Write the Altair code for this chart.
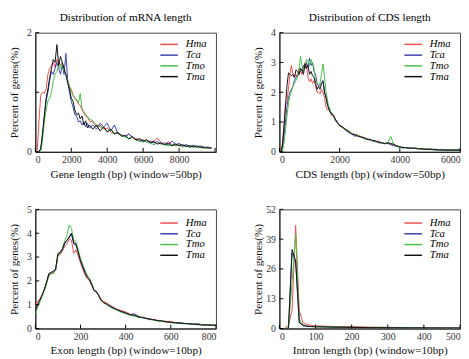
import altair as alt
import pandas as pd

SPECIES = ["Hma", "Tca", "Tmo", "Tma"]
COLORS = ["#ef4c4c", "#3a40ad", "#46c046", "#111111"]
FONT = "Liberation Serif"
W, H = 185, 122

# ---------------- Panel 1: mRNA length (window=50bp) ----------------
MRNA_X = [0, 100, 200, 300, 400, 500, 600, 700, 800, 900,
          1000, 1100, 1200, 1300, 1400, 1500, 1600, 1700, 1800, 1900,
          2000, 2100, 2200, 2300, 2400, 2500, 2600, 2700, 2800, 2900,
          3000, 3200, 3400, 3600, 3800, 4000, 4200, 4400, 4600, 4800,
          5000, 5200, 5400, 5600, 5800, 6000, 6200, 6400, 6600, 6800,
          7000, 7200, 7400, 7600, 7800, 8000, 8200, 8400, 8600, 8800,
          9000, 9200, 9400, 9600, 9800]
MRNA_HMA = [0, 0, 0.5, 0.95, 1.0, 0.98, 1.05, 1.3, 1.4, 1.45,
            1.5, 1.42, 1.55, 1.5, 1.45, 1.5, 1.35, 1.3, 1.2, 1.1,
            1.05, 0.95, 0.9, 0.88, 0.8, 0.78, 0.7, 0.65, 0.6, 0.58,
            0.52, 0.5, 0.42, 0.45, 0.38, 0.4, 0.33, 0.3, 0.32, 0.28,
            0.25, 0.3, 0.24, 0.22, 0.2, 0.18, 0.2, 0.16, 0.18, 0.23,
            0.15, 0.12, 0.17, 0.12, 0.1, 0.12, 0.09, 0.1, 0.08, 0.1,
            0.07, 0.09, 0.06, 0.08, 0.05]
MRNA_TCA = [0, 0, 0, 0.05, 0.3, 0.6, 0.85, 1.0, 1.2, 1.35,
            1.3, 1.4, 1.5, 1.4, 1.3, 1.45, 1.3, 1.65, 1.2, 1.0,
            0.85, 0.75, 0.62, 0.6, 0.5, 0.52, 0.45, 0.5, 0.42, 0.48,
            0.4, 0.45, 0.38, 0.48, 0.42, 0.48, 0.35, 0.45, 0.3, 0.28,
            0.25, 0.3, 0.25, 0.2, 0.18, 0.2, 0.16, 0.18, 0.15, 0.17,
            0.13, 0.15, 0.12, 0.18, 0.12, 0.14, 0.1, 0.12, 0.09, 0.11,
            0.08, 0.1, 0.07, 0.08, 0.06]
MRNA_TMO = [0, 0, 0, 0, 0.2, 0.5, 0.7, 0.85, 0.9, 1.0,
            1.2, 1.3, 1.35, 1.45, 1.4, 1.5, 1.35, 1.3, 1.2, 1.1,
            1.0, 0.95, 0.9, 0.85, 0.82, 0.98, 0.72, 0.68, 0.62, 0.6,
            0.55, 0.52, 0.45, 0.42, 0.4, 0.35, 0.38, 0.3, 0.32, 0.27,
            0.25, 0.22, 0.24, 0.2, 0.18, 0.16, 0.18, 0.14, 0.12, 0.15,
            0.13, 0.12, 0.1, 0.12, 0.1, 0.11, 0.08, 0.1, 0.07, 0.09,
            0.07, 0.08, 0.06, 0.07, 0.06]
MRNA_TMA = [0, 0, 0, 0.05, 0.3, 0.6, 0.9, 1.05, 1.25, 1.4,
            1.55, 1.5, 1.8, 1.45, 1.6, 1.5, 1.4, 1.3, 1.15, 1.05,
            0.9, 0.85, 0.7, 0.62, 0.65, 0.55, 0.6, 0.45, 0.52, 0.4,
            0.45, 0.38, 0.45, 0.35, 0.42, 0.33, 0.38, 0.3, 0.33, 0.26,
            0.28, 0.22, 0.25, 0.2, 0.22, 0.18, 0.2, 0.15, 0.17, 0.13,
            0.15, 0.12, 0.14, 0.1, 0.13, 0.1, 0.12, 0.09, 0.1, 0.08,
            0.1, 0.07, 0.08, 0.06, 0.07]

# ---------------- Panel 2: CDS length (window=50bp) ----------------
CDS_X = [0, 50, 100, 150, 200, 250, 300, 350, 400, 450,
         500, 550, 600, 650, 700, 750, 800, 850, 900, 950,
         1000, 1050, 1100, 1150, 1200, 1250, 1300, 1350, 1400, 1450,
         1500, 1550, 1600, 1650, 1700, 1750, 1800, 1850, 1900, 1950,
         2000, 2100, 2200, 2300, 2400, 2500, 2600, 2700, 2800, 2900,
         3000, 3100, 3200, 3300, 3400, 3500, 3600, 3700, 3800, 3900,
         4000, 4100, 4200, 4300, 4400, 4500, 4600, 4700, 4800, 4900,
         5000, 5100, 5200, 5300, 5400, 5500, 5600, 5700, 5800, 5900,
         6000]
CDS_HMA = [0, 0, 0.3, 0.9, 1.6, 1.7, 2.1, 2.6, 2.9, 2.6,
           2.5, 2.6, 2.5, 2.8, 2.75, 2.6, 2.8, 3.0, 2.9, 2.5,
           2.35, 2.45, 2.3, 2.4, 2.2, 2.0, 2.0, 1.95, 2.1, 2.0,
           1.8, 1.5, 1.4, 1.45, 1.3, 1.2, 1.25, 1.1, 1.05, 0.95,
           0.9, 0.85, 0.75, 0.7, 0.62, 0.55, 0.58, 0.5, 0.48, 0.45,
           0.4, 0.38, 0.35, 0.36, 0.3, 0.28, 0.3, 0.25, 0.22, 0.2,
           0.16, 0.15, 0.14, 0.13, 0.12, 0.13, 0.11, 0.1, 0.11, 0.09,
           0.1, 0.08, 0.09, 0.07, 0.08, 0.07, 0.06, 0.07, 0.06, 0.07,
           0.06]
CDS_TCA = [0, 0, 0.1, 0.5, 1.0, 1.5, 1.8, 2.0, 2.1, 2.2,
           2.4, 2.5, 2.55, 2.6, 2.7, 2.75, 2.9, 2.8, 3.0, 2.85,
           3.15, 2.9, 3.0, 2.7, 2.6, 2.3, 2.2, 2.25, 2.3, 2.4,
           1.95, 1.9, 1.6, 1.5, 1.35, 1.25, 1.2, 1.1, 1.05, 0.95,
           0.9, 0.82, 0.72, 0.65, 0.6, 0.52, 0.55, 0.5, 0.45, 0.42,
           0.4, 0.36, 0.35, 0.3, 0.3, 0.27, 0.28, 0.24, 0.2, 0.18,
           0.15, 0.13, 0.14, 0.12, 0.11, 0.12, 0.1, 0.11, 0.08, 0.09,
           0.08, 0.09, 0.06, 0.07, 0.06, 0.05, 0.06, 0.05, 0.06, 0.05,
           0.06]
CDS_TMO = [0, 0, 0, 0.3, 0.7, 1.2, 1.6, 1.9, 2.0, 2.2,
           2.3, 2.4, 2.5, 2.7, 3.2, 2.9, 2.7, 2.9, 3.1, 3.05,
           2.9, 3.1, 2.95, 2.8, 2.4, 2.3, 2.25, 2.3, 2.6, 2.95,
           2.5, 2.0, 1.7, 1.5, 1.35, 1.3, 1.2, 1.05, 1.0, 0.95,
           0.88, 0.8, 0.75, 0.7, 0.62, 0.58, 0.55, 0.52, 0.45, 0.42,
           0.4, 0.37, 0.33, 0.32, 0.3, 0.27, 0.3, 0.52, 0.24, 0.18,
           0.15, 0.13, 0.14, 0.11, 0.13, 0.11, 0.12, 0.09, 0.1, 0.08,
           0.11, 0.07, 0.06, 0.07, 0.05, 0.06, 0.05, 0.06, 0.08, 0.06,
           0.07]
CDS_TMA = [0, 0, 0.2, 0.8, 1.5, 2.2, 2.65, 2.6, 2.55, 2.6,
           2.5, 2.75, 2.7, 2.6, 2.8, 2.75, 2.6, 2.95, 2.8, 2.9,
           2.6, 2.7, 2.55, 2.5, 2.3, 2.1, 2.2, 2.1, 2.3, 2.35,
           2.0, 1.8, 1.55, 1.4, 1.3, 1.25, 1.2, 1.1, 1.0, 0.95,
           0.88, 0.82, 0.75, 0.68, 0.6, 0.58, 0.52, 0.5, 0.48, 0.42,
           0.42, 0.38, 0.36, 0.32, 0.3, 0.28, 0.3, 0.28, 0.25, 0.2,
           0.17, 0.15, 0.14, 0.13, 0.12, 0.12, 0.1, 0.1, 0.09, 0.08,
           0.08, 0.07, 0.07, 0.06, 0.06, 0.06, 0.05, 0.06, 0.05, 0.06,
           0.06]

# ---------------- Panel 3: Exon length (window=10bp) ----------------
EXON_X = [0, 10, 20, 30, 40, 50, 60, 70, 80, 90,
          100, 110, 120, 130, 140, 150, 160, 170, 180, 190,
          200, 210, 220, 230, 240, 250, 260, 270, 280, 290,
          300, 320, 340, 360, 380, 400, 420, 440, 460, 480,
          500, 520, 540, 560, 580, 600, 620, 640, 660, 680,
          700, 720, 740, 760, 780, 800]
EXON_HMA = [0.9, 1.15, 1.25, 1.4, 1.6, 1.9, 2.25, 2.3, 2.35, 2.45,
            3.05, 3.1, 3.25, 3.45, 3.55, 3.75, 3.7, 3.15, 3.3, 3.05,
            2.75, 2.5, 2.25, 2.1, 2.0, 1.8, 1.6, 1.55, 1.4, 1.25,
            1.15, 1.05, 0.92, 0.82, 0.75, 0.7, 0.6, 0.56, 0.5, 0.45,
            0.42, 0.38, 0.35, 0.32, 0.3, 0.3, 0.25, 0.23, 0.22, 0.2,
            0.19, 0.18, 0.16, 0.15, 0.15, 0.14]
EXON_TCA = [0.8, 0.95, 1.15, 1.4, 1.65, 1.95, 2.3, 2.35, 2.4, 2.5,
            3.1, 3.15, 3.3, 3.55, 3.7, 3.8, 4.0, 3.55, 3.5, 3.2,
            2.85, 2.6, 2.35, 2.15, 2.05, 1.85, 1.6, 1.55, 1.4, 1.2,
            1.1, 1.0, 0.9, 0.78, 0.72, 0.65, 0.58, 0.62, 0.48, 0.45,
            0.4, 0.37, 0.33, 0.31, 0.28, 0.26, 0.24, 0.25, 0.21, 0.2,
            0.18, 0.2, 0.15, 0.14, 0.14, 0.13]
EXON_TMO = [0.6, 0.9, 1.1, 1.35, 1.6, 1.9, 2.2, 2.3, 2.3, 2.45,
            3.1, 3.15, 3.35, 3.7, 3.9, 4.35, 4.2, 3.7, 3.65, 3.3,
            2.95, 2.7, 2.45, 2.25, 2.1, 1.9, 1.6, 1.5, 1.38, 1.2,
            1.1, 0.98, 0.85, 0.78, 0.68, 0.62, 0.55, 0.52, 0.45, 0.48,
            0.38, 0.36, 0.32, 0.3, 0.27, 0.25, 0.23, 0.21, 0.2, 0.19,
            0.17, 0.16, 0.15, 0.14, 0.14, 0.15]
EXON_TMA = [0.75, 1.0, 1.2, 1.4, 1.65, 1.95, 2.3, 2.35, 2.4, 2.5,
            3.15, 3.2, 3.35, 3.6, 3.7, 3.85, 4.0, 3.6, 3.55, 3.2,
            2.85, 2.6, 2.35, 2.15, 2.05, 1.85, 1.6, 1.55, 1.4, 1.2,
            1.1, 1.0, 0.88, 0.8, 0.72, 0.65, 0.58, 0.55, 0.48, 0.45,
            0.4, 0.38, 0.33, 0.32, 0.28, 0.26, 0.24, 0.22, 0.21, 0.2,
            0.18, 0.17, 0.15, 0.15, 0.14, 0.13]

# ---------------- Panel 4: Intron length (window=10bp) ----------------
INTRON_X = [5, 15, 25, 35, 45, 55, 65, 75, 85, 95,
            125, 150, 200, 250, 300, 350, 400, 450, 500]
INTRON_HMA = [0, 0, 1.5, 8, 45, 8, 2.5, 1.8, 1.5, 1.2,
              1.0, 0.9, 0.8, 0.6, 0.5, 0.4, 0.35, 0.3, 0.25]
INTRON_TCA = [0, 0, 0, 33, 29, 3, 1.2, 1.0, 0.9, 0.8,
              0.7, 0.6, 0.5, 0.4, 0.35, 0.3, 0.25, 0.2, 0.2]
INTRON_TMO = [0, 0, 0.5, 20, 41, 4, 1.5, 1.1, 0.9, 0.8,
              0.7, 0.6, 0.5, 0.4, 0.35, 0.3, 0.25, 0.2, 0.2]
INTRON_TMA = [0, 0, 0, 34.5, 29.5, 2.5, 1.5, 1.0, 0.9, 0.8,
              0.7, 0.6, 0.5, 0.4, 0.35, 0.3, 0.25, 0.2, 0.2]


def long_df(xs, series):
    rows = []
    for sp, vals in zip(SPECIES, series):
        for x, v in zip(xs, vals):
            rows.append({"x": x, "y": v, "species": sp})
    return pd.DataFrame(rows)


def panel(xs, series, xdom, xlabels, xticks, ydom, yticks, xtitle, title=None, legend_y=6):
    df = long_df(xs, series)
    xscale = alt.Scale(domain=xdom, nice=False, zero=False)
    yscale = alt.Scale(domain=ydom, nice=False, zero=False)
    xaxis = alt.Axis(values=xlabels, title=xtitle, ticks=False, format="d",
                     labelPadding=3, titlePadding=4)
    yaxis = alt.Axis(values=yticks, title="Percent of genes(%)", ticks=False, format="d",
                     labelPadding=4, titlePadding=3, minExtent=13, maxExtent=13)
    lines = alt.Chart(df).mark_line(strokeWidth=1, clip=True).encode(
        x=alt.X("x:Q", scale=xscale, axis=xaxis),
        y=alt.Y("y:Q", scale=yscale, axis=yaxis),
        color=alt.Color("species:N", sort=SPECIES,
                        scale=alt.Scale(domain=SPECIES, range=COLORS),
                        legend=alt.Legend(orient="none", legendX=131, legendY=legend_y,
                                          title=None,
                                          symbolType="M-1.8,0H1.8", symbolSize=100,
                                          symbolStrokeWidth=1.5, labelFontStyle="italic",
                                          labelFont=FONT, labelFontSize=11,
                                          labelOffset=11, rowPadding=0,
                                          padding=0)),
    )
    xt = alt.Chart(pd.DataFrame({"x": xticks})).mark_rule(color="black", strokeWidth=1).encode(
        x=alt.X("x:Q", scale=xscale, axis=xaxis),
        y=alt.value(H), y2=alt.value(H - 4),
    )
    yt = alt.Chart(pd.DataFrame({"y": yticks})).mark_rule(color="black", strokeWidth=1).encode(
        y=alt.Y("y:Q", scale=yscale, axis=yaxis),
        x=alt.value(0), x2=alt.value(4),
    )
    ch = alt.layer(lines, xt, yt).properties(width=W, height=H)
    if title:
        ch = ch.properties(title=alt.Title(title, font=FONT, fontSize=11.5,
                                           fontWeight="normal", offset=4,
                                           frame="group", anchor="middle"))
    return ch


p1 = panel(MRNA_X, [MRNA_HMA, MRNA_TCA, MRNA_TMO, MRNA_TMA], [0, 10050],
           [0, 2000, 4000, 6000, 8000], [0, 2000, 4000, 6000, 8000, 10000],
           [0, 2], [0, 1, 2], "Gene length (bp) (window=50bp)",
           "Distribution of mRNA length")
p2 = panel(CDS_X, [CDS_HMA, CDS_TCA, CDS_TMO, CDS_TMA], [0, 6000],
           [0, 2000, 4000, 6000], [0, 2000, 4000, 6000],
           [0, 4], [0, 1, 2, 3, 4], "CDS length (bp) (window=50bp)",
           "Distribution of CDS length")
p3 = panel(EXON_X, [EXON_HMA, EXON_TCA, EXON_TMO, EXON_TMA], [0, 800],
           [0, 200, 400, 600, 800], [0, 200, 400, 600, 800],
           [0, 5], [0, 1, 2, 3, 4, 5], "Exon length (bp) (window=10bp)", legend_y=8)
p4 = panel(INTRON_X, [INTRON_HMA, INTRON_TCA, INTRON_TMO, INTRON_TMA], [0, 500],
           [0, 100, 200, 300, 400, 500], [0, 100, 200, 300, 400, 500],
           [0, 52], [0, 13, 26, 39, 52], "Intron length (bp) (window=10bp)", legend_y=8)

row1 = alt.hconcat(p1, p2, spacing=36).resolve_scale(color="independent").resolve_legend(color="independent")
row2 = alt.hconcat(p3, p4, spacing=36).resolve_scale(color="independent").resolve_legend(color="independent")

chart = alt.vconcat(row1, row2, spacing=24, padding=0).resolve_scale(
    color="independent").resolve_legend(color="independent").configure_view(
    stroke="#444", strokeWidth=1).configure_axis(
    labelFont=FONT, labelFontSize=10, labelColor="#333",
    titleFont=FONT, titleFontSize=11.5, titleFontWeight="normal", titleColor="#111",
    domainColor="#111", grid=False).configure_legend(
    labelFont=FONT)

chart.save("out.html", embed_options={"renderer": "svg", "actions": False})
